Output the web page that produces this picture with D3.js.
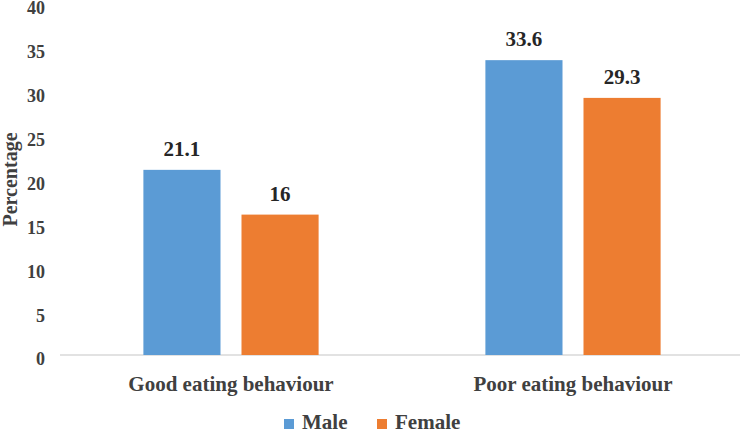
<!DOCTYPE html>
<html><head><meta charset="utf-8">
<script src="https://cdn.jsdelivr.net/npm/d3@7"></script>
<style>
body{margin:0;background:#fff}
text{font-family:"Liberation Serif","Times New Roman",serif;font-weight:bold;fill:#404040}
</style></head>
<body><svg id="chart" width="744" height="434"></svg>
<script>
const categories=["Good eating behaviour","Poor eating behaviour"];
const seriesNames=["Male","Female"];
const male=[21.1,33.6];
const female=[16,29.3];
const yTicks=[0,5,10,15,20,25,30,35,40];
const colors={Male:"#5B9BD5",Female:"#ED7D31"};

const svg=d3.select("#chart");
const W=744,H=434;
const m={top:4,right:0,bottom:79,left:60};

const x=d3.scaleBand().domain(categories).range([m.left,W-m.right]).paddingInner(0).paddingOuter(0);
const x1=d3.scaleBand().domain(seriesNames).range([0,x.bandwidth()]).paddingInner(0.214).paddingOuter(0.85);
const y=d3.scaleLinear().domain([0,40]).range([H-m.bottom,m.top]);

/* y axis labels (no line) */
const yAxis=svg.append("g").attr("transform",`translate(${m.left},0)`)
  .call(d3.axisLeft(y).tickValues(yTicks).tickSize(0).tickPadding(15));
yAxis.select(".domain").remove();
yAxis.selectAll("text").attr("font-size",18).attr("dy","0.55em")
  .style("font-family","Liberation Serif").style("font-weight","bold").style("fill","#404040");

/* baseline */
svg.append("line").attr("x1",m.left).attr("x2",W-4).attr("y1",y(0)).attr("y2",y(0))
  .attr("stroke","#d9d9d9").attr("stroke-width",1.3);

const rows=categories.map((c,i)=>({cat:c,vals:[{s:"Male",v:male[i]},{s:"Female",v:female[i]}]}));
const grp=svg.append("g").selectAll("g").data(rows).enter().append("g")
  .attr("transform",d=>`translate(${x(d.cat)},0)`);
grp.selectAll("rect").data(d=>d.vals).enter().append("rect")
  .attr("x",d=>x1(d.s)).attr("width",x1.bandwidth())
  .attr("y",d=>y(d.v)).attr("height",d=>y(0)-y(d.v))
  .attr("fill",d=>colors[d.s]);
grp.selectAll("text.val").data(d=>d.vals).enter().append("text").attr("class","val")
  .attr("x",d=>x1(d.s)+x1.bandwidth()/2).attr("y",d=>y(d.v)-14)
  .attr("text-anchor","middle").attr("font-size",21).style("fill","#262626")
  .text(d=>d.v);

/* category labels */
svg.append("g").selectAll("text").data(categories).enter().append("text")
  .attr("x",d=>x(d)+x.bandwidth()/2).attr("y",H-m.bottom+36)
  .attr("text-anchor","middle").attr("font-size",21).text(d=>d);

/* y title */
svg.append("text").attr("transform",`translate(17,${y(20)}) rotate(-90)`)
  .attr("text-anchor","middle").attr("font-size",20).text("Percentage");

/* legend */
const leg=svg.append("g").attr("transform","translate(284,429)");
const lx=[0,93];
seriesNames.forEach((s,i)=>{
  leg.append("rect").attr("x",lx[i]).attr("y",-10).attr("width",10).attr("height",10).attr("fill",colors[s]);
  leg.append("text").attr("x",lx[i]+18).attr("y",0).attr("font-size",21).text(s);
});
</script></body></html>
